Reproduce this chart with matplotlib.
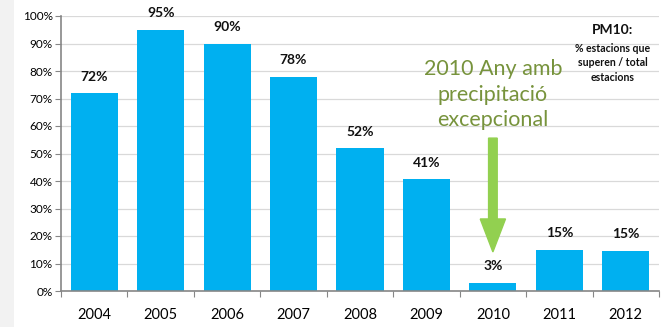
import matplotlib
matplotlib.use("Agg")
import matplotlib.pyplot as plt
from matplotlib.patches import Rectangle, FancyArrow
from matplotlib.ticker import FuncFormatter

years = ['2004', '2005', '2006', '2007', '2008', '2009', '2010', '2011', '2012']
values = [72, 95, 90, 78, 52, 40.6, 3, 15, 14.6]
labels = ['72%', '95%', '90%', '78%', '52%', '41%', '3%', '15%', '15%']

plt.rcParams['font.family'] = ['Lato', 'DejaVu Sans']

fig = plt.figure(figsize=(6.67, 3.27), dpi=100)
fig.patches.append(Rectangle((0, 0), 14 / 667, 1, transform=fig.transFigure,
                             facecolor='#F2F2F2', edgecolor='none', zorder=-1))
ax = fig.add_axes([61 / 667, 36 / 327, 598 / 667, 275 / 327])

x = range(len(years))
ax.bar(x, values, width=0.71, color='#00B0F0', zorder=2)

for i, (v, lab) in enumerate(zip(values, labels)):
    ax.text(i, v + 3.8, lab, ha='center', va='bottom', fontsize=10,
            fontweight='bold', color='#111111')

ax.set_xlim(-0.5, len(years) - 0.5)
ax.set_ylim(0, 100)
ax.set_yticks(range(0, 101, 10))
ax.yaxis.set_major_formatter(FuncFormatter(lambda v, p: f'{int(v)}%'))
ax.grid(axis='y', color='#D9D9D9', linewidth=0.9, zorder=0)

# boundary ticks as major, labels on minor ticks at centres
ax.set_xticks([i - 0.5 for i in range(len(years) + 1)])
ax.set_xticklabels([])
ax.set_xticks(list(x), minor=True)
ax.set_xticklabels(years, minor=True, fontsize=10.5)
ax.tick_params(axis='x', which='major', length=4, color='#868686', direction='out')
ax.tick_params(axis='x', which='minor', length=0, pad=12)
ax.tick_params(axis='y', length=4, color='#868686', labelsize=8.5, pad=2)

for s in ['top', 'right']:
    ax.spines[s].set_visible(False)
for s in ['left', 'bottom']:
    ax.spines[s].set_color('#868686')
    ax.spines[s].set_linewidth(1.2)

# annotation for 2010
green_txt = '#77933C'
ax.text(6, 80.7, '2010 Any amb', ha='center', va='center', fontsize=15.5, color=green_txt)
ax.text(6, 71.2, 'precipitació', ha='center', va='center', fontsize=15.5, color=green_txt)
ax.text(6, 62, 'excepcional', ha='center', va='center', fontsize=15.5, color=green_txt)
ax.add_patch(FancyArrow(6, 55.6, 0, -41.4, width=0.13, head_width=0.38,
                        head_length=12, length_includes_head=True,
                        color='#92D050', zorder=3))

# legend-like note
ax.text(7.8, 95, 'PM10:', ha='center', va='center', fontsize=10,
        fontweight='bold', color='#111111')
ax.text(7.8, 83, '% estacions que\nsuperen / total\nestacions', ha='center',
        va='center', fontsize=7.6, fontweight='bold', color='#111111',
        linespacing=1.4)

fig.savefig('out.png', dpi=100)
